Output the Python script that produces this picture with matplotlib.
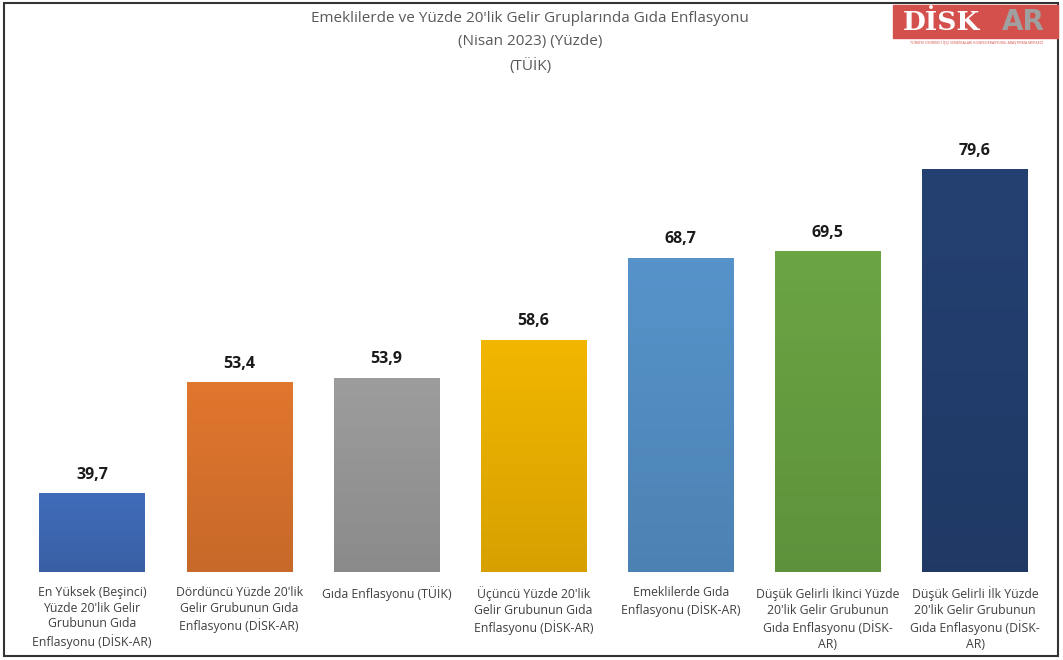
import numpy as np
import matplotlib.pyplot as plt
from matplotlib.patches import Rectangle
from matplotlib.colors import to_rgb

# data
categories = [
    'En Yüksek (Beşinci)\nYüzde 20\'lik Gelir\nGrubunun Gıda\nEnflasyonu (DİSK-AR)',
    'Dördüncü Yüzde 20\'lik\nGelir Grubunun Gıda\nEnflasyonu (DİSK-AR)',
    'Gıda Enflasyonu (TÜİK)',
    'Üçüncü Yüzde 20\'lik\nGelir Grubunun Gıda\nEnflasyonu (DİSK-AR)',
    'Emeklilerde Gıda\nEnflasyonu (DİSK-AR)',
    'Düşük Gelirli İkinci Yüzde\n20\'lik Gelir Grubunun\nGıda Enflasyonu (DİSK-\nAR)',
    'Düşük Gelirli İlk Yüzde\n20\'lik Gelir Grubunun\nGıda Enflasyonu (DİSK-\nAR)',
]
values = [39.7, 53.4, 53.9, 58.6, 68.7, 69.5, 79.6]
colors = ['#4472C4', '#ED7D31', '#A5A5A5', '#FFC000', '#5B9BD5', '#70AD47', '#264478']
title = "Emeklilerde ve Yüzde 20'lik Gelir Gruplarında Gıda Enflasyonu\n(Nisan 2023) (Yüzde)\n(TÜİK)"

plt.rcParams['font.family'] = ['Open Sans', 'DejaVu Sans']

fig = plt.figure(figsize=(10.63, 6.6), dpi=100)
ax = fig.add_axes([18.4/1063, 1-572/660, (1048.6-18.4)/1063, (572-85)/660])
ax.set_xlim(-0.5, 6.5)
ax.set_ylim(30, 90)
ax.axis('off')

x = np.arange(len(values))
bars = ax.bar(x, values, width=0.715, color=colors, zorder=2)

# vertical gradient inside each bar, a little darker toward the bottom
grad = np.linspace(0, 1, 256)
for b, c in zip(bars, colors):
    rgb = np.array(to_rgb(c))
    img = (rgb * 0.95)[None, :] * (1 - grad[:, None]) + (rgb * 0.84)[None, :] * grad[:, None]
    img = img[:, None, :]
    im = ax.imshow(img, extent=(b.get_x(), b.get_x() + b.get_width(), 30, b.get_height()),
                   aspect='auto', origin='upper', zorder=3)
    im.set_clip_path(b)

for xi, v in zip(x, values):
    ax.text(xi, v + 1.3, f'{v:.1f}'.replace('.', ','), ha='center', va='bottom',
            fontsize=11.5, fontweight='bold', color='#1a1a1a')

for xi, lab in zip(x, categories):
    ax.text(xi, 28.3, lab, ha='center', va='top', fontsize=8.8, color='#404040',
            linespacing=1.28)

fig.text(530/1063, 1-11/660, title, ha='center', va='top', fontsize=11,
         color='#595959', linespacing=1.72)

# logo
fig.patches.append(Rectangle((893/1063, 1-38/660), 165/1063, 33/660,
                             transform=fig.transFigure, color='#D4504C', zorder=5))
fig.text(903/1063, 1-22/660, 'DİSK', fontsize=19, fontweight='bold', color='white',
         family='DejaVu Serif', va='center', ha='left', zorder=6)
fig.text(1002/1063, 1-22/660, 'AR', fontsize=20, fontweight='bold', color='#a0a0a0',
         family='DejaVu Sans', va='center', ha='left', zorder=6)
fig.text(976/1063, 1-43/660, 'TÜRKİYE DEVRİMCİ İŞÇİ SENDİKALARI KONFEDERASYONU ARAŞTIRMA MERKEZİ',
         fontsize=2.6, color='#D4504C', ha='center', va='center')

# frame
fig.patches.append(Rectangle((4/1063, 1-656/660), 1054/1063, 653/660,
                             transform=fig.transFigure, fill=False, edgecolor='#333333', lw=1.5))

fig.savefig('out.png', dpi=100)
